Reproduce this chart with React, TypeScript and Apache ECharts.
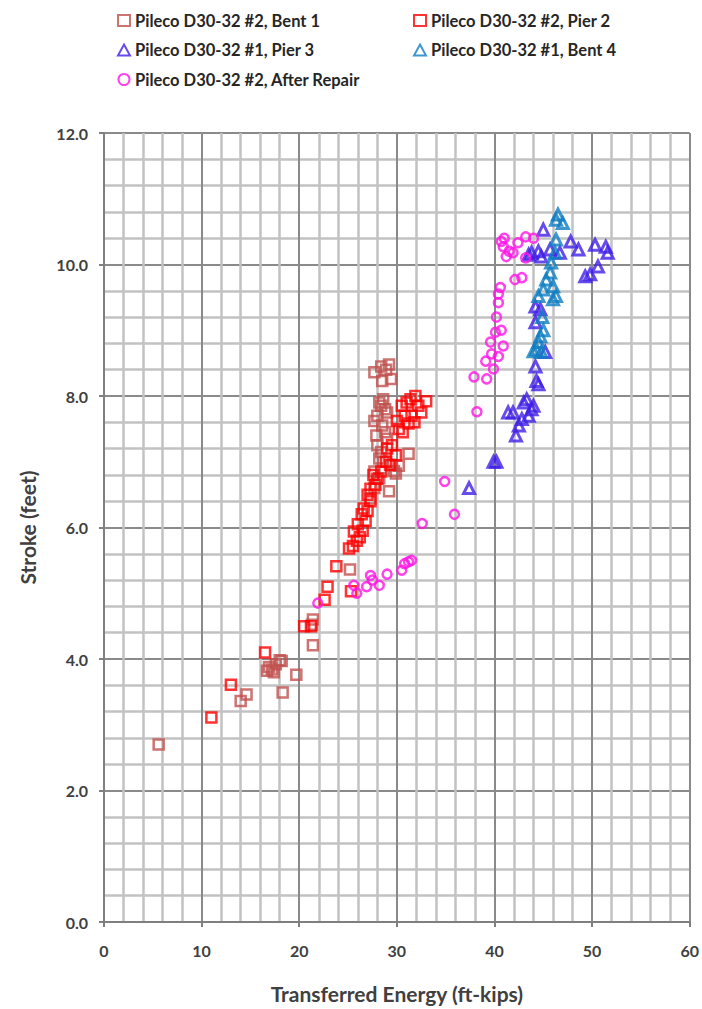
import React, { useEffect, useRef } from "react";
import * as echarts from "echarts";

const seriesNames = [
  "Pileco D30-32 #2, Bent 1",
  "Pileco D30-32 #2, Pier 2",
  "Pileco D30-32 #1, Pier 3",
  "Pileco D30-32 #1, Bent 4",
  "Pileco D30-32 #2, After Repair",
];
const seriesColors = ["#C0504D", "#FF0000", "#3F1FE6", "#0E7DC2", "#FF14E6"];
const seriesSymbols = ["rect", "rect", "triangle", "triangle", "circle"];

const xTicks = [0, 10, 20, 30, 40, 50, 60];
const yTicks = [0, 2, 4, 6, 8, 10, 12];

const bent1: number[][] = [
  [5.6, 2.7], [14.0, 3.36], [14.6, 3.46], [16.7, 3.82], [16.9, 3.88], [17.2, 3.84], [17.6, 3.92],
  [18.0, 3.98], [18.2, 3.97], [17.4, 3.8], [18.3, 3.49], [19.7, 3.76], [21.4, 4.21], [21.3, 4.52],
  [21.4, 4.6], [25.2, 5.36], [27.3, 6.44], [27.7, 6.6], [28.2, 6.75], [29.2, 6.55], [29.7, 6.86],
  [27.7, 6.85], [28.2, 7.05], [28.6, 7.0], [29.0, 7.35], [28.0, 7.25], [28.4, 7.15], [31.2, 7.12],
  [27.9, 7.4], [28.8, 7.45], [28.5, 7.55], [27.7, 7.62], [28.0, 7.7], [28.8, 7.8], [28.2, 7.9],
  [28.6, 7.95], [28.4, 7.85], [29.0, 7.75], [28.5, 8.23], [29.4, 8.26], [27.7, 8.36], [28.4, 8.45],
  [29.2, 8.48], [28.9, 8.4], [29.5, 6.95], [30.2, 6.94], [29.9, 6.82],
];
const pier2: number[][] = [
  [11.0, 3.11], [13.0, 3.61], [16.5, 4.1], [20.5, 4.5], [21.2, 4.5], [22.6, 4.9], [22.9, 5.1],
  [23.8, 5.41], [25.3, 5.03], [25.1, 5.68], [25.5, 5.72], [25.9, 5.8], [25.6, 5.94], [26.2, 5.85],
  [26.5, 5.95], [26.0, 6.05], [26.8, 6.1], [26.4, 6.2], [27.0, 6.25], [26.6, 6.29], [27.3, 6.4],
  [27.0, 6.5], [27.3, 6.59], [27.8, 6.65], [28.0, 6.74], [27.6, 6.8], [28.4, 6.85], [28.9, 7.0],
  [29.3, 6.95], [29.9, 7.1], [29.0, 7.2], [29.5, 7.25], [30.2, 7.5], [30.6, 7.45], [31.2, 7.58],
  [30.0, 7.62], [30.8, 7.7], [31.5, 7.7], [30.5, 7.85], [31.0, 7.9], [31.9, 8.0], [31.4, 7.95],
  [32.2, 7.85], [33.0, 7.92], [32.5, 7.75], [31.8, 7.6],
];
const pier3: number[][] = [
  [37.4, 6.6], [39.9, 7.0], [40.2, 7.0], [41.4, 7.75], [41.9, 7.75], [42.2, 7.4], [42.8, 7.65],
  [42.5, 7.55], [43.3, 7.95], [43.8, 7.8], [43.0, 7.9], [43.5, 7.7], [44.0, 7.85], [44.3, 8.23],
  [44.5, 8.18], [44.2, 8.45], [45.2, 8.67], [44.2, 9.12], [44.2, 9.36], [44.7, 9.32], [43.8, 10.18],
  [44.8, 10.12], [45.0, 10.53], [45.7, 10.23], [46.7, 10.18], [47.8, 10.35], [48.6, 10.23],
  [49.3, 9.82], [49.8, 9.85], [50.6, 9.97], [50.3, 10.3], [51.4, 10.27], [51.6, 10.18],
  [44.5, 10.2], [43.5, 10.15],
];
const bent4: number[][] = [
  [46.5, 10.76], [46.3, 10.68], [47.0, 10.63], [46.3, 10.38], [46.2, 10.18], [45.8, 10.03],
  [45.7, 9.88], [45.3, 9.77], [46.0, 9.67], [45.0, 9.62], [44.5, 9.52], [46.3, 9.52], [46.0, 9.47],
  [44.7, 8.91], [44.5, 8.82], [44.3, 8.71], [44.8, 8.67], [44.0, 8.68], [45.0, 9.0], [44.9, 9.2],
];
const afterRepair: number[][] = [
  [21.9, 4.85], [25.6, 5.12], [25.9, 5.0], [26.9, 5.1], [27.3, 5.27], [27.5, 5.2], [28.2, 5.12],
  [29.0, 5.29], [30.5, 5.35], [30.8, 5.45], [31.5, 5.5], [31.2, 5.48], [32.6, 6.06], [34.9, 6.7],
  [35.9, 6.2], [37.9, 8.29], [38.2, 7.76], [39.2, 8.26], [39.9, 8.41], [39.1, 8.53], [40.4, 8.6],
  [39.7, 8.64], [40.9, 8.76], [39.6, 8.82], [40.1, 8.97], [40.7, 9.0], [40.2, 9.2], [40.4, 9.42],
  [40.4, 9.55], [40.6, 9.65], [42.1, 9.77], [42.8, 9.8], [40.7, 10.35], [40.9, 10.27], [41.2, 10.12],
  [41.9, 10.18], [42.4, 10.33], [43.2, 10.42], [44.0, 10.4], [43.2, 10.1], [41.5, 10.2], [41.0, 10.4],
];

const seriesData = [bent1, pier2, pier3, bent4, afterRepair];

const FONT = "Lato, 'Liberation Sans', sans-serif";

export default function App() {
  const ref = useRef<HTMLDivElement>(null);
  useEffect(() => {
    const chart = echarts.init(ref.current!, null, { renderer: "svg" });
    const axisCommon = {
      type: "value" as const,
      axisLine: { show: true, lineStyle: { color: "#7f7f7f", width: 2 } },
      axisTick: { show: true, length: 5, lineStyle: { color: "#7f7f7f", width: 2 } },
      minorTick: { show: false, splitNumber: 5 },
      splitLine: { show: true, lineStyle: { color: "#8a8a8a", width: 2 } },
      minorSplitLine: { show: true, lineStyle: { color: "#c2c2c2", width: 2.5 } },
      nameLocation: "middle" as const,
      nameTextStyle: { fontFamily: FONT, fontWeight: "bold", fontSize: 21, color: "#404040" },
    };
    const legendText = { fontFamily: FONT, fontSize: 16.5, fontWeight: "bold", color: "#262626", lineHeight: 16 };
    chart.setOption({
      animation: false,
      backgroundColor: "#ffffff",
      textStyle: { fontFamily: FONT },
      grid: { left: 104, right: 10, top: 133, bottom: 84 },
      legend: [
        {
          left: 112,
          top: 7,
          orient: "vertical",
          itemGap: 12.5,
          itemWidth: 12,
          itemHeight: 11,
          textStyle: legendText,
          data: [seriesNames[0], seriesNames[2], seriesNames[4]],
        },
        {
          left: 408,
          top: 7,
          orient: "vertical",
          itemGap: 12.5,
          itemWidth: 12,
          itemHeight: 11,
          textStyle: legendText,
          data: [seriesNames[1], seriesNames[3]],
        },
      ],
      xAxis: {
        ...axisCommon,
        min: xTicks[0],
        max: xTicks[xTicks.length - 1],
        interval: xTicks[1] - xTicks[0],
        name: "Transferred Energy (ft-kips)",
        nameGap: 61,
        axisLabel: {
          margin: 20,
          fontFamily: FONT,
          fontWeight: "bold",
          fontSize: 16,
          color: "#404040",
        },
      },
      yAxis: {
        ...axisCommon,
        min: yTicks[0],
        max: yTicks[yTicks.length - 1],
        interval: yTicks[1] - yTicks[0],
        name: "Stroke (feet)",
        nameGap: 66,
        axisLabel: {
          margin: 16,
          fontFamily: FONT,
          fontWeight: "bold",
          fontSize: 16,
          color: "#404040",
          formatter: (v: number) => v.toFixed(1),
        },
      },
      series: seriesNames.map((name, i) => ({
        name,
        type: "scatter",
        data: seriesData[i],
        symbol: seriesSymbols[i],
        symbolSize: seriesSymbols[i] === "triangle" ? 11 : seriesSymbols[i] === "circle" ? 9 : 10,
        itemStyle: {
          color: "rgba(255,255,255,0)",
          borderColor: seriesColors[i],
          borderWidth: seriesSymbols[i] === "triangle" ? 3 : 2.5,
        },
        emphasis: { disabled: true },
      })),
    });
    return () => chart.dispose();
  }, []);
  return (
    <div
      ref={ref}
      style={{ position: "absolute", left: 0, top: 0, width: 702, height: 1009 }}
    />
  );
}
